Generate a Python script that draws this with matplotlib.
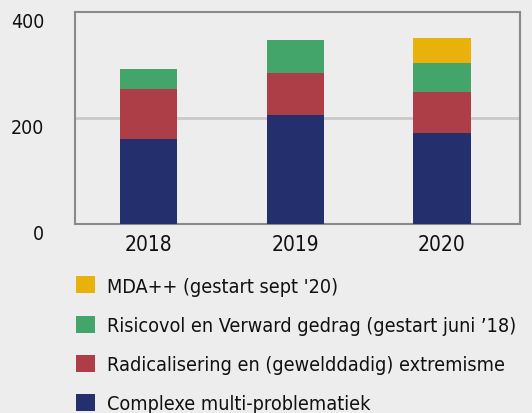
import matplotlib
matplotlib.use("Agg")
import matplotlib.pyplot as plt
from matplotlib.patches import Patch
import numpy as np

plt.rcParams['font.family'] = ['DejaVu Sans']
plt.rcParams['font.stretch'] = 'condensed'

years = ['2018', '2019', '2020']
complexe = [160, 206, 172]
radicalisering = [94, 79, 77]
risicovol = [38, 63, 54]
mda = [0, 0, 48]

labels = ["Complexe multi-problematiek",
          "Radicalisering en (gewelddadig) extremisme",
          "Risicovol en Verward gedrag (gestart juni \u201918)",
          "MDA++ (gestart sept '20)"]
colors = ['#24306E', '#AD3E48', '#44A56B', '#E9B10C']
series = [complexe, radicalisering, risicovol, mda]

bg = '#EDEDED'
fig = plt.figure(figsize=(5.32, 4.14), dpi=100, facecolor=bg)
ax = fig.add_axes([0.141, 0.4565, 0.836, 0.512], facecolor=bg)

x = np.arange(len(years))
bottom = np.zeros(len(years))
for vals, c, lab in zip(series, colors, labels):
    ax.bar(x, vals, bottom=bottom, width=0.39, color=c, label=lab, zorder=3)
    bottom += np.array(vals)

ax.set_xlim(-0.5, 2.53)
ax.set_ylim(0, 400)
ax.set_yticks([0, 200, 400])
ax.set_xticks(x)
ax.set_xticklabels(years, fontsize=15, color='#111111')
ax.set_yticklabels(['0', '200', '400'], fontsize=14, va='top', color='#111111')
ax.tick_params(axis='both', length=0)
ax.tick_params(axis='y', pad=22)
ax.tick_params(axis='x', pad=7)
ax.axhline(200, color='#C8C8C8', lw=2, zorder=1)
for s in ax.spines.values():
    s.set_color('#8A8A8A')
    s.set_linewidth(1.5)

handles = [Patch(facecolor=c, label=l) for c, l in zip(colors, labels)][::-1]
fig.legend(handles=handles, loc='upper left', bbox_to_anchor=(0.143, 0.330),
           frameon=False, fontsize=14.25, handlelength=0.95, handleheight=0.95,
           handletextpad=0.62, labelspacing=1.0, borderpad=0, borderaxespad=0,
           labelcolor='#111111')

fig.savefig('out.png', dpi=100, facecolor=bg)
